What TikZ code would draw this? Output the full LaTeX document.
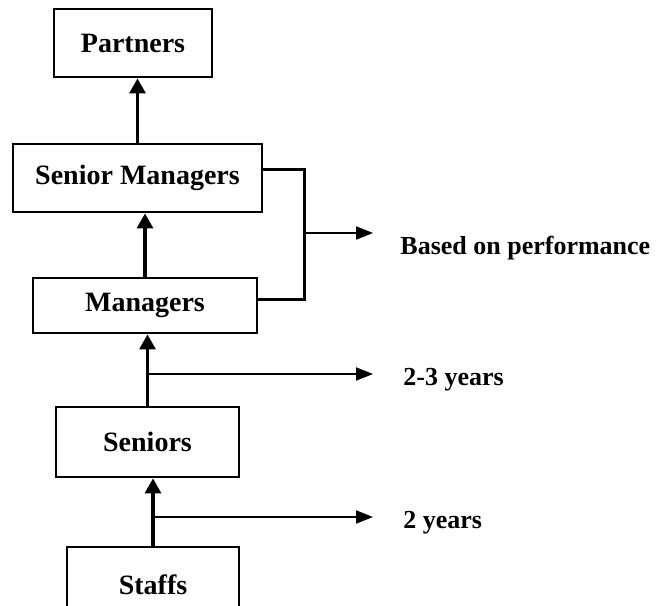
\documentclass[tikz,border=0pt]{standalone}
\usepackage{fontspec}
\setmainfont{Liberation Serif}
\usetikzlibrary{positioning,calc,arrows.meta}

\tikzstyle{rank}=[draw, line width=1.4pt, inner sep=0, font=\bfseries\fontsize{14}{16}\selectfont]
\tikzstyle{note}=[inner sep=0, anchor=west, font=\bfseries\fontsize{13}{15}\selectfont]
\tikzstyle{up}=[line width=1.6pt, -{Triangle[length=7.5pt,width=8pt]}]
\tikzstyle{side}=[line width=1pt, -{Triangle[length=8.5pt,width=6.5pt]}]
\tikzstyle{link}=[line width=1.5pt]

\begin{document}
\begin{tikzpicture}[x=0.5pt, y=-0.5pt]
\clip (0,0) rectangle (656,605);
% ranks, top to bottom
\node[rank, minimum width=79pt, minimum height=34pt] (partners) at (133,43) {Partners};
\node[rank, minimum width=124.5pt, minimum height=34pt] (srmgr) at (137.5,178) {Senior Managers};
\node[rank, minimum width=112pt, minimum height=27.5pt] (mgr) at (145,305.5) {Managers};
\node[rank, minimum width=91.5pt, minimum height=35pt] (seniors) at (147.5,442) {Seniors};
\node[rank, minimum width=86pt, minimum height=38pt] (staffs) at (153,585) {Staffs};
% promotions
\draw[up] (srmgr.north) -- (srmgr.north |- partners.south);
\draw[up] (mgr.north) -- (mgr.north |- srmgr.south);
\draw[up] (seniors.north) -- (seniors.north |- mgr.south);
\draw[up] (staffs.north) -- (staffs.north |- seniors.south);
% performance bracket
\coordinate (join) at (304,233);
\coordinate (perftip) at (373,233);
\draw[link] ([yshift=4.5pt]srmgr.east) -| (join) |- ([yshift=3.25pt]mgr.east);
\draw[side] (join) -- (perftip);
\node[note] (perf) at (400,248) {Based on performance};
% time spans
\coordinate (tip23) at (373,374);
\draw[side] (seniors.north |- tip23) -- (tip23);
\node[note] (yrs23) at (403,380) {2-3 years};
\coordinate (tip2) at (373,517);
\draw[side] (staffs.north |- tip2) -- (tip2);
\node[note] (yrs2) at (403,523) {2 years};
\end{tikzpicture}
\end{document}
